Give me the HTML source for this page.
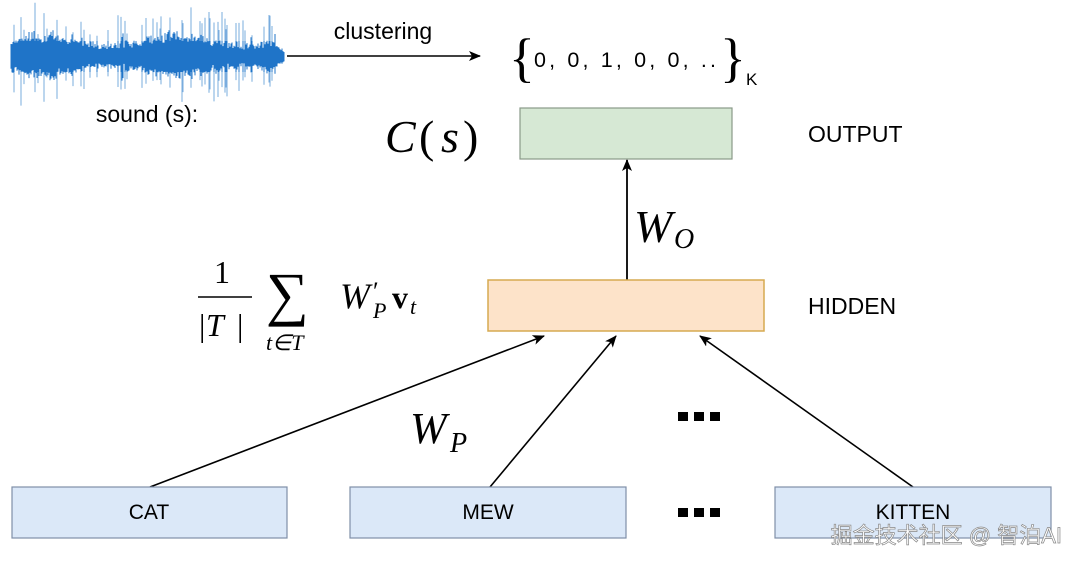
<!DOCTYPE html>
<html><head><meta charset="utf-8"><style>
body{margin:0;background:#fff;}
svg{display:block}
.s{font-family:"Liberation Sans",sans-serif;}
.m{font-family:"Liberation Serif",serif;font-style:italic;}
.r{font-family:"Liberation Serif",serif;}
</style></head><body>
<svg id="svg" width="1080" height="564" viewBox="0 0 1080 564" xmlns="http://www.w3.org/2000/svg">
<defs><marker id="a" markerWidth="12" markerHeight="10" refX="11" refY="5" orient="auto" markerUnits="userSpaceOnUse"><path d="M0,0 L12,5 L0,10 L3,5 z" fill="#000"/></marker></defs>
<g id="wave" stroke="#1f74c8" stroke-width="1"></g>
<line x1="287" y1="56" x2="480" y2="56" stroke="#000" stroke-width="1.6" marker-end="url(#a)"/>
<text x="383" y="39" class="s" font-size="23" text-anchor="middle">clustering</text>
<text x="147" y="122" class="s" font-size="23" text-anchor="middle">sound (s):</text>
<text x="509" y="76" class="r" font-size="54" font-weight="100">{</text>
<text x="534" y="67" class="s" font-size="21.5" textLength="182">0, 0, 1, 0, 0, ..</text>
<text x="720" y="76" class="r" font-size="54">}</text>
<text x="746" y="85" class="s" font-size="17">K</text>
<text x="385" y="152" class="m" font-size="46">C</text><text x="419" y="152" class="r" font-size="46">(</text><text x="441" y="152" class="m" font-size="46">s</text><text x="463" y="152" class="r" font-size="46">)</text>
<rect x="520" y="108" width="212" height="51" fill="#d6e8d4" stroke="#8a9a88" stroke-width="1.2"/>
<text x="808" y="142" class="s" font-size="23">OUTPUT</text>
<line x1="627" y1="280" x2="627" y2="160" stroke="#000" stroke-width="1.8" marker-end="url(#a)"/>
<text x="634" y="242" class="m" font-size="46">W</text><text x="674" y="248" class="m" font-size="28">O</text>
<rect x="488" y="280" width="276" height="51" fill="#fde3c9" stroke="#d6aa50" stroke-width="1.5"/>
<text x="808" y="314" class="s" font-size="23">HIDDEN</text>
<text x="222" y="283" class="r" font-size="32" text-anchor="middle">1</text>
<line x1="198" y1="297" x2="252" y2="297" stroke="#000" stroke-width="1.5"/>
<text x="199" y="336" class="r" font-size="32">|</text><text x="206" y="336" class="m" font-size="32">T</text><text x="237" y="336" class="r" font-size="32">|</text>
<text x="266" y="314" class="r" font-size="60">∑</text>
<text x="266" y="350" class="m" font-size="22">t∈T</text>
<text x="340" y="308" class="m" font-size="36">W</text><text x="373" y="300" class="r" font-size="26">′</text><text x="373" y="318" class="m" font-size="22">P</text>
<text x="392" y="308" class="r" font-weight="bold" font-size="32">v</text><text x="410" y="314" class="m" font-size="22">t</text>
<line x1="150" y1="487" x2="544" y2="336" stroke="#000" stroke-width="1.6" marker-end="url(#a)"/>
<line x1="490" y1="487" x2="616" y2="336" stroke="#000" stroke-width="1.6" marker-end="url(#a)"/>
<line x1="913" y1="487" x2="700" y2="336" stroke="#000" stroke-width="1.6" marker-end="url(#a)"/>
<text x="410" y="443" class="m" font-size="44">W</text><text x="450" y="452" class="m" font-size="28">P</text>
<g fill="#000"><rect x="678" y="412" width="10" height="9"/><rect x="694" y="412" width="10" height="9"/><rect x="710" y="412" width="10" height="9"/>
<rect x="678" y="508" width="10" height="9"/><rect x="694" y="508" width="10" height="9"/><rect x="710" y="508" width="10" height="9"/></g>
<rect x="12" y="487" width="275" height="51" fill="#dbe8f8" stroke="#7f8fa8" stroke-width="1.2"/>
<rect x="350" y="487" width="276" height="51" fill="#dbe8f8" stroke="#7f8fa8" stroke-width="1.2"/>
<rect x="775" y="487" width="276" height="51" fill="#dbe8f8" stroke="#7f8fa8" stroke-width="1.2"/>
<text x="149" y="519" class="s" font-size="21" text-anchor="middle">CAT</text>
<text x="488" y="519" class="s" font-size="21" text-anchor="middle">MEW</text>
<text x="913" y="519" class="s" font-size="21" text-anchor="middle">KITTEN</text>
<text x="1062" y="543" font-family="'Liberation Sans','Noto Sans CJK SC',sans-serif" font-size="22" text-anchor="end" fill="#fff" stroke="#888" stroke-width="0.7">掘金技术社区 @ 智泊AI</text>
</svg>
<script>
var g=document.getElementById('wave'),s=7,h='';
function r(){s=(s*9301+49297)%233280;return s/233280;}
for(var x=11;x<285;x+=1){
 var t=(x-11)/274, env=9+5*Math.sin(t*13)+r()*6;
 if(r()<0.15) env+=10+r()*22;
 if(x>272) env*=(285-x)/13;
 var up=env*(0.7+r()*0.5), dn=env*(0.6+r()*0.5);
 var o=(env>20)?0.6:1;
 h+='<line stroke-opacity="'+o+'" x1="'+x+'" y1="'+(53-up)+'" x2="'+x+'" y2="'+(60+dn)+'"/>';
 h+='<line x1="'+x+'" y1="'+(53-Math.min(up,12))+'" x2="'+x+'" y2="'+(60+Math.min(dn,12))+'"/>';
}
g.innerHTML=h;
</script>
</body></html>
